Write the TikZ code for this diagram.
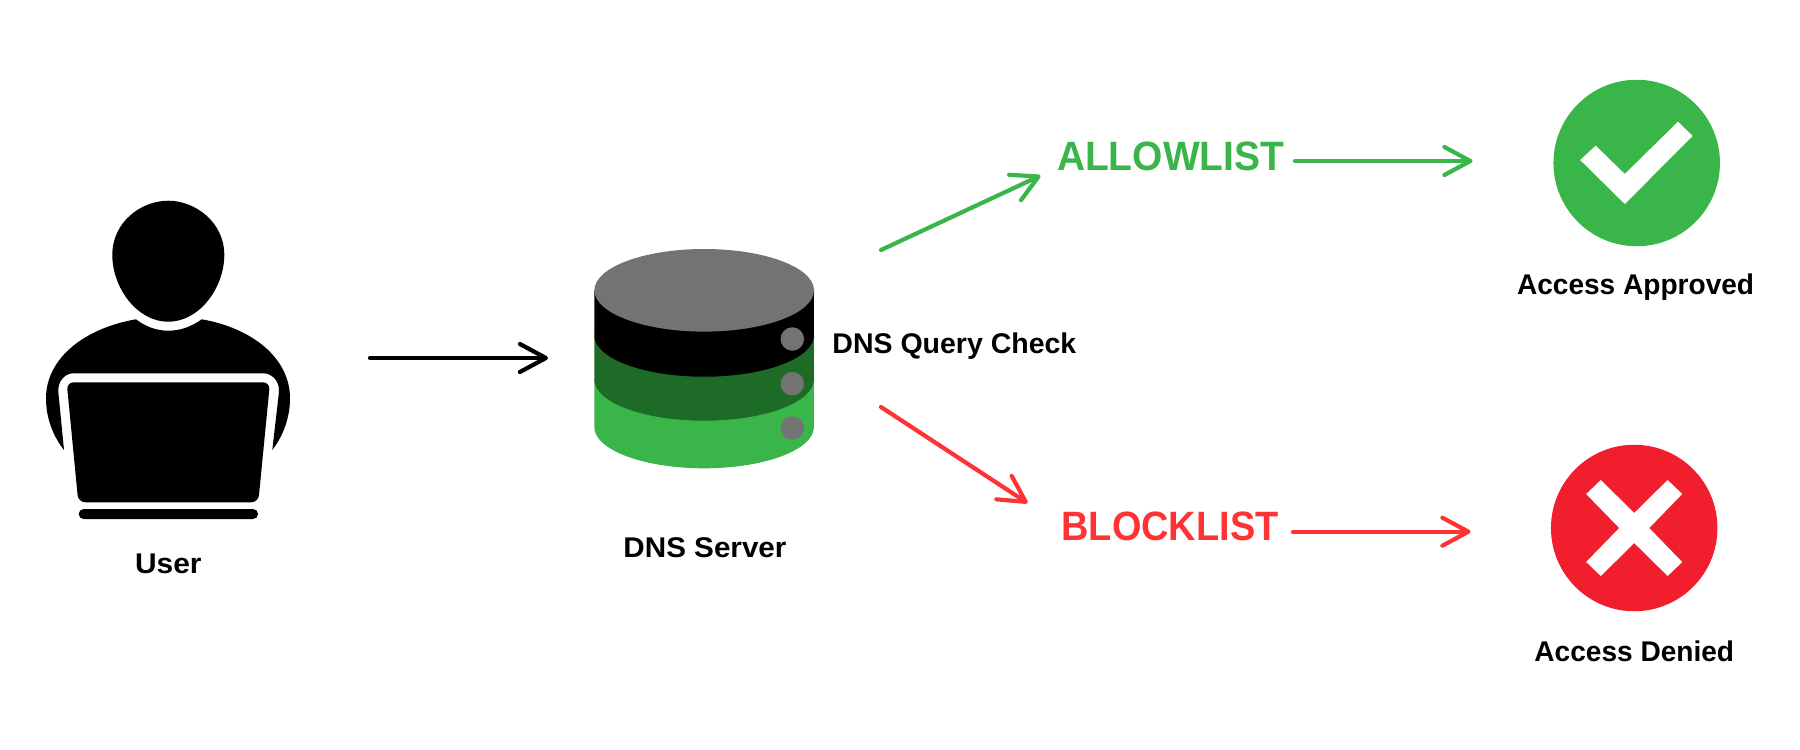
\documentclass[tikz,border=0pt]{standalone}
\usepackage{fontspec}
\usepackage{graphicx}
\setmainfont{Liberation Sans}[BoldFont={Liberation Sans Bold}]
\usetikzlibrary{arrows.meta}
\definecolor{cgray}{HTML}{737373}
\definecolor{cdark}{HTML}{1E6B28}
\definecolor{cgreen}{HTML}{3AB54A}
\definecolor{cred}{HTML}{F11F2E}
\definecolor{cline}{HTML}{FF3333}
\tikzset{
  x=1pt,y=-1pt,
  lbl/.style={inner sep=0pt,font=\fontsize{28.5}{28.5}\selectfont\bfseries,text=black},
  list/.style={inner sep=0pt,font=\fontsize{41}{41}\selectfont\bfseries},
  link/.style={line width=4.2pt,line cap=round,
    -{Straight Barb[length=26pt,width=28pt,line width=4.2pt,round]}},
  dot/.style={circle,fill=cgray,inner sep=0pt,minimum size=23.5pt},
  sign/.style={circle,inner sep=0pt,minimum size=166.5pt},
}
\begin{document}
\begin{tikzpicture}
\useasboundingbox (0,0) rectangle (1800,750);
% user icon
\fill (168.3,200.7) .. controls (195,200.7) and (224.3,222) .. (224.3,255)
  .. controls (224.3,287) and (200,321.7) .. (168.3,321.7)
  .. controls (136.5,321.7) and (112.3,287) .. (112.3,255)
  .. controls (112.3,222) and (141,200.7) .. (168.3,200.7) -- cycle;
\fill (136,319.3) .. controls (146,327) and (157,330.7) .. (168.3,330.7)
  .. controls (180,330.7) and (191,327) .. (201.7,319.3)
  .. controls (252,328) and (290,358) .. (290,398.3)
  .. controls (290,418) and (283,436) .. (272.3,450)
  -- (279,391.7) .. controls (279.6,381) and (272,373.3) .. (263.3,373.3)
  -- (73.3,373.3) .. controls (65,373.3) and (57.7,381) .. (58.3,391.7)
  -- (64,450) .. controls (53,436) and (46,418) .. (46,398.3)
  .. controls (46,358) and (85,328) .. (136,319.3) -- cycle;
\fill[rounded corners=7pt] (66.7,382.3) -- (270,382.3) -- (258.3,502.3) -- (78.3,502.3) -- cycle;
\fill[rounded corners=5pt] (78.7,509) rectangle (258,519);
\node[lbl] (user) at (168.3,564) {\scalebox{1.05}[1]{User}};
% server
\fill[cgreen] (594.3,379.4) -- (594.3,427) arc[start angle=180,end angle=360,x radius=109.8,y radius=-41.3] -- (814,379.4) -- cycle;
\fill[cdark] (594.3,335.4) -- (594.3,379.4) arc[start angle=180,end angle=360,x radius=109.8,y radius=-41.3] -- (814,335.4) -- cycle;
\fill[black] (594.3,290.3) -- (594.3,335.4) arc[start angle=180,end angle=360,x radius=109.8,y radius=-41.3] -- (814,290.3) -- cycle;
\fill[cgray] (704.2,290.3) ellipse[x radius=109.8,y radius=41.3];
\node[dot] (d1) at (792.3,339) {};
\node[dot] (d2) at (792.3,383.7) {};
\node[dot] (d3) at (792.3,428) {};
\node[lbl] (server) at (705,548) {\scalebox{1.04}[1]{DNS Server}};
\node[lbl] (check) at (954.4,346.5) {DNS Query Check};
% lists
\node[list,text=cgreen] (allow) at (1170.6,156.5) {\scalebox{0.95}[1]{ALLOWLIST}};
\node[list,text=cline] (block) at (1170,526.5) {\scalebox{0.925}[1]{BLOCKLIST}};
% signs
\node[sign,fill=cgreen] (ok) at (1636.7,163) {};
\fill[white] (1678,121.7) -- (1692.6,136) -- (1624.8,204) -- (1580.2,160) -- (1595.7,145.7) -- (1624.8,174) -- cycle;
\node[lbl] (approved) at (1635.6,287) {\scalebox{0.985}[1]{Access Approved}};
\node[sign,fill=cred] (no) at (1634.2,528) {};
\fill[white] (1634.2,513) -- (1667.6,480) -- (1682.2,494) -- (1649.2,528) -- (1682.2,562) -- (1667.6,576) -- (1634.2,543) -- (1600.8,576) -- (1586.2,562) -- (1619.2,528) -- (1586.2,494) -- (1600.8,480) -- cycle;
\node[lbl] (denied) at (1634.3,651) {\scalebox{0.985}[1]{Access Denied}};
% free ends
\coordinate (uOut) at (370,358);
\coordinate (sIn) at (548,358);
\coordinate (sUp) at (881,250);
\coordinate (aIn) at (1040.5,175.6);
\coordinate (sDown) at (881,407);
\coordinate (bIn) at (1027.5,503);
\coordinate (aOut) at (1295,161);
\coordinate (okIn) at (1472.5,161);
\coordinate (bOut) at (1293,531.7);
\coordinate (noIn) at (1470.5,531.7);
\draw[link,black] (uOut) -- (sIn);
\draw[link,cgreen] (sUp) -- (aIn);
\draw[link,cline] (sDown) -- (bIn);
\draw[link,cgreen] (aOut) -- (okIn);
\draw[link,cline] (bOut) -- (noIn);
\end{tikzpicture}
\end{document}
